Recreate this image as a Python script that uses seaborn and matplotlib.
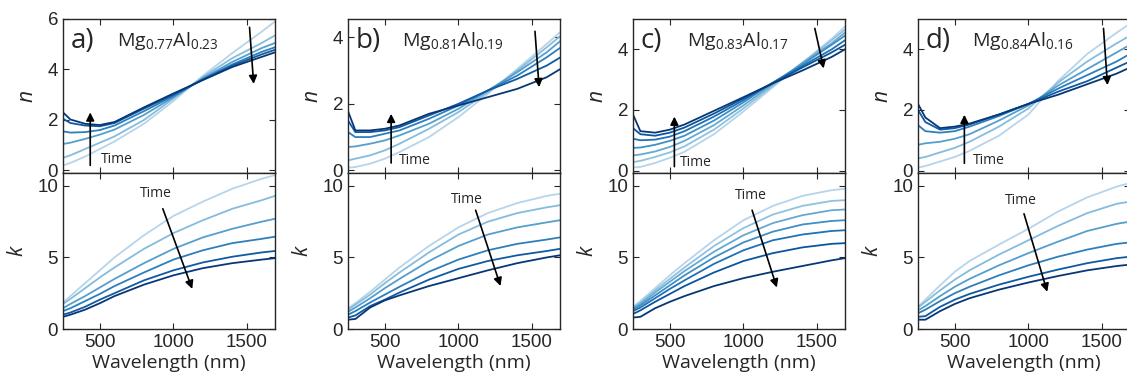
import numpy as np
import pandas as pd
import matplotlib
matplotlib.use("Agg")
import matplotlib.pyplot as plt
import seaborn as sns

WAVELENGTH = [250, 300, 400, 500, 600, 800, 1000, 1200, 1400, 1600, 1690]

# each row = one time step, earliest (light) -> latest (dark)
A_N = [
    [0.20, 0.30, 0.55, 0.85, 1.15, 1.85, 2.75, 3.75, 4.65, 5.50, 5.90],
    [0.50, 0.60, 0.85, 1.10, 1.35, 2.00, 2.85, 3.70, 4.45, 5.05, 5.35],
    [1.05, 1.10, 1.25, 1.42, 1.62, 2.20, 2.90, 3.65, 4.30, 4.85, 5.05],
    [1.55, 1.50, 1.52, 1.60, 1.78, 2.35, 2.95, 3.62, 4.20, 4.70, 4.88],
    [2.05, 1.88, 1.78, 1.75, 1.88, 2.45, 3.00, 3.60, 4.15, 4.60, 4.78],
    [2.30, 2.02, 1.85, 1.80, 1.92, 2.50, 3.05, 3.58, 4.10, 4.50, 4.68],
]
A_K = [
    [1.85, 2.30, 3.20, 4.10, 5.00, 6.55, 7.90, 8.90, 9.80, 10.50, 10.75],
    [1.75, 2.10, 2.85, 3.60, 4.30, 5.60, 6.70, 7.60, 8.40, 9.00, 9.30],
    [1.45, 1.75, 2.30, 2.90, 3.50, 4.60, 5.60, 6.40, 7.00, 7.50, 7.70],
    [1.25, 1.45, 1.95, 2.45, 3.00, 3.95, 4.85, 5.50, 6.00, 6.30, 6.45],
    [1.00, 1.15, 1.55, 2.05, 2.50, 3.40, 4.10, 4.65, 5.05, 5.35, 5.45],
    [0.85, 1.00, 1.35, 1.80, 2.30, 3.10, 3.75, 4.25, 4.60, 4.85, 4.95],
]
B_N = [
    [0.08, 0.10, 0.20, 0.35, 0.55, 1.00, 1.60, 2.30, 3.05, 3.80, 4.15],
    [0.30, 0.35, 0.45, 0.60, 0.80, 1.25, 1.75, 2.35, 3.00, 3.70, 4.03],
    [0.70, 0.72, 0.80, 0.90, 1.05, 1.40, 1.85, 2.40, 2.95, 3.55, 3.88],
    [1.15, 1.00, 1.00, 1.10, 1.20, 1.55, 1.95, 2.40, 2.85, 3.40, 3.68],
    [1.50, 1.15, 1.15, 1.20, 1.30, 1.65, 2.00, 2.40, 2.75, 3.15, 3.39],
    [1.78, 1.20, 1.20, 1.25, 1.35, 1.70, 1.95, 2.20, 2.45, 2.80, 3.04],
]
B_K = [
    [1.45, 1.80, 2.60, 3.45, 4.30, 5.80, 7.10, 8.10, 8.80, 9.30, 9.45],
    [1.35, 1.70, 2.40, 3.20, 3.95, 5.35, 6.60, 7.50, 8.10, 8.50, 8.65],
    [1.20, 1.50, 2.15, 2.85, 3.50, 4.75, 5.80, 6.60, 7.10, 7.45, 7.60],
    [1.00, 1.25, 1.85, 2.40, 2.95, 4.00, 4.85, 5.50, 5.95, 6.25, 6.40],
    [0.80, 0.95, 1.60, 2.05, 2.55, 3.45, 4.20, 4.75, 5.15, 5.45, 5.60],
    [0.65, 0.70, 1.50, 2.00, 2.35, 3.00, 3.55, 4.10, 4.60, 5.00, 5.15],
]
C_N = [
    [0.10, 0.12, 0.25, 0.42, 0.62, 1.20, 1.95, 2.75, 3.55, 4.35, 4.75],
    [0.28, 0.32, 0.45, 0.60, 0.80, 1.35, 2.05, 2.80, 3.55, 4.30, 4.65],
    [0.50, 0.53, 0.63, 0.78, 0.98, 1.50, 2.15, 2.85, 3.55, 4.20, 4.55],
    [0.75, 0.76, 0.85, 0.98, 1.15, 1.65, 2.25, 2.90, 3.50, 4.15, 4.45],
    [1.05, 1.00, 1.02, 1.12, 1.30, 1.78, 2.32, 2.90, 3.45, 4.00, 4.30],
    [1.40, 1.20, 1.15, 1.25, 1.42, 1.88, 2.38, 2.88, 3.40, 3.90, 4.15],
    [1.85, 1.30, 1.25, 1.35, 1.52, 1.97, 2.42, 2.88, 3.30, 3.75, 4.00],
]
C_K = [
    [1.55, 1.95, 2.85, 3.75, 4.60, 6.20, 7.60, 8.60, 9.30, 9.70, 9.80],
    [1.50, 1.85, 2.70, 3.50, 4.30, 5.80, 7.05, 8.00, 8.60, 8.95, 9.00],
    [1.45, 1.75, 2.55, 3.30, 4.05, 5.40, 6.55, 7.40, 7.95, 8.30, 8.35],
    [1.35, 1.65, 2.35, 3.05, 3.75, 5.00, 6.05, 6.80, 7.30, 7.55, 7.60],
    [1.25, 1.50, 2.15, 2.80, 3.40, 4.55, 5.50, 6.20, 6.60, 6.85, 6.90],
    [1.05, 1.30, 1.90, 2.45, 3.00, 3.95, 4.75, 5.30, 5.70, 5.95, 6.00],
    [0.80, 0.85, 1.45, 1.90, 2.30, 3.00, 3.55, 4.00, 4.40, 4.80, 4.95],
]
D_N = [
    [0.10, 0.15, 0.30, 0.45, 0.65, 1.15, 1.85, 2.95, 3.85, 4.55, 4.85],
    [0.40, 0.45, 0.60, 0.75, 0.95, 1.45, 2.05, 2.90, 3.60, 4.20, 4.45],
    [0.85, 0.90, 0.95, 1.05, 1.20, 1.65, 2.15, 2.80, 3.35, 3.90, 4.15],
    [1.50, 1.30, 1.25, 1.30, 1.45, 1.80, 2.20, 2.70, 3.15, 3.60, 3.85],
    [2.00, 1.60, 1.35, 1.40, 1.52, 1.85, 2.20, 2.60, 2.95, 3.40, 3.60],
    [2.20, 1.75, 1.40, 1.45, 1.55, 1.85, 2.20, 2.50, 2.85, 3.20, 3.40],
]
D_K = [
    [1.55, 2.05, 3.05, 4.00, 4.75, 5.90, 7.00, 8.20, 9.20, 9.95, 10.20],
    [1.50, 1.90, 2.70, 3.45, 4.10, 5.20, 6.20, 7.20, 8.10, 8.75, 8.90],
    [1.30, 1.60, 2.30, 2.95, 3.50, 4.45, 5.30, 6.10, 6.85, 7.35, 7.50],
    [1.10, 1.35, 1.95, 2.50, 2.95, 3.75, 4.45, 5.05, 5.55, 5.95, 6.05],
    [0.85, 0.90, 1.55, 2.05, 2.45, 3.10, 3.65, 4.15, 4.60, 4.95, 5.05],
    [0.65, 0.65, 1.25, 1.75, 2.15, 2.75, 3.25, 3.70, 4.10, 4.40, 4.50],
]

PANEL_LETTERS = ["a)", "b)", "c)", "d)"]
MG = ["0.77", "0.81", "0.83", "0.84"]
AL = ["0.23", "0.19", "0.17", "0.16"]
N_DATA = [A_N, B_N, C_N, D_N]
K_DATA = [A_K, B_K, C_K, D_K]
N_YLIM = [(-0.1, 6.0), (-0.08, 4.55), (-0.08, 5.0), (-0.08, 5.0)]
N_YTICKS = [[0, 2, 4, 6], [0, 2, 4], [0, 2, 4], [0, 2, 4]]

# arrow / label placement (data coords)
N_UP = [(435, 0.2, 2.3), (543, 0.22, 1.7), (531, 0.13, 1.78), (565, 0.24, 1.84)]
N_UP_TXT = [(505, 0.42), (598, 0.3), (565, 0.28), (620, 0.32)]
N_DOWN = [((1517, 5.67), (1545, 3.43)), ((1520, 4.18), (1548, 2.5)),
          ((1485, 4.69), (1545, 3.37)), ((1510, 4.69), (1537, 2.82))]
K_ARROW = [((928, 8.4), (1128, 2.8)), ((1117, 8.3), (1286, 3.0)),
           ((1059, 8.3), (1227, 2.9)), ((970, 8.05), (1128, 2.6))]
K_TXT = [(883, 9.5), (1060, 9.06), (1048, 9.3), (948, 9.0)]

sns.set_theme(style="ticks")
plt.rcParams["font.family"] = ["Liberation Sans", "DejaVu Sans"]
plt.rcParams["mathtext.fontset"] = "custom"
plt.rcParams["mathtext.rm"] = "Open Sans"
plt.rcParams["axes.edgecolor"] = "#262626"
plt.rcParams["xtick.color"] = "#262626"
plt.rcParams["ytick.color"] = "#262626"
LABEL_FONT = ["Open Sans", "DejaVu Sans"]


def to_long(rows):
    frames = []
    for i, r in enumerate(rows):
        frames.append(pd.DataFrame({"wl": WAVELENGTH, "val": r, "step": i}))
    return pd.concat(frames, ignore_index=True)


def style_axis(ax):
    ax.set_xlim(250, 1690)
    ax.set_xticks([500, 1000, 1500])
    ax.tick_params(direction="in", top=True, right=True, length=4, width=0.8,
                   labelsize=13.5)
    for s in ax.spines.values():
        s.set_linewidth(1.0)


fig = plt.figure(figsize=(11.27, 3.83), dpi=100)
lefts = [63, 348, 633, 918]
arrow_kw = dict(arrowstyle="-|>", color="black", lw=1.2, mutation_scale=12,
                shrinkA=0, shrinkB=0)

for i in range(4):
    l = lefts[i] / 1127
    w = 212 / 1127
    ax_n = fig.add_axes([l, 1 - 173 / 383, w, 154 / 383])
    ax_k = fig.add_axes([l, 1 - 329 / 383, w, 156 / 383])
    n_steps = len(N_DATA[i])
    pal = [plt.cm.Blues(v) for v in np.linspace(0.3, 0.97, n_steps)]

    sns.lineplot(data=to_long(N_DATA[i]), x="wl", y="val", hue="step",
                 palette=pal, legend=False, ax=ax_n, lw=1.3)
    sns.lineplot(data=to_long(K_DATA[i]), x="wl", y="val", hue="step",
                 palette=pal, legend=False, ax=ax_k, lw=1.3)

    style_axis(ax_n)
    style_axis(ax_k)
    ax_n.set_ylim(*N_YLIM[i])
    ax_n.set_yticks(N_YTICKS[i])
    ax_n.set_xticklabels([])
    ax_n.set_xlabel("")
    ax_k.set_ylim(0, 10.9)
    ax_k.set_yticks([0, 5, 10])
    ax_n.set_ylabel("n", fontsize=15, style="italic", family=LABEL_FONT, labelpad=7)
    ax_k.set_ylabel("k", fontsize=15, style="italic", family=LABEL_FONT, labelpad=7)
    ax_k.set_xlabel("Wavelength (nm)", fontsize=14, family=LABEL_FONT, labelpad=2)

    # panel letter and composition
    ax_n.text(0.035, 0.855, PANEL_LETTERS[i], transform=ax_n.transAxes,
              fontsize=20, family=LABEL_FONT, va="center", ha="left")
    ax_n.text(0.255, 0.855,
              r"Mg$_{\mathregular{%s}}$Al$_{\mathregular{%s}}$" % (MG[i], AL[i]),
              transform=ax_n.transAxes, fontsize=14, family=LABEL_FONT,
              va="center", ha="left")

    # time arrows
    x, y0, y1 = N_UP[i]
    ax_n.annotate("", xy=(x, y1), xytext=(x, y0), arrowprops=arrow_kw)
    ax_n.text(*N_UP_TXT[i], "Time", fontsize=10, family=LABEL_FONT,
              va="center", ha="left")
    (x0, y0), (x1, y1) = N_DOWN[i]
    ax_n.annotate("", xy=(x1, y1), xytext=(x0, y0), arrowprops=arrow_kw)
    (x0, y0), (x1, y1) = K_ARROW[i]
    ax_k.annotate("", xy=(x1, y1), xytext=(x0, y0), arrowprops=arrow_kw)
    ax_k.text(*K_TXT[i], "Time", fontsize=10, family=LABEL_FONT,
              va="center", ha="center")

fig.savefig("out.png", dpi=100)
